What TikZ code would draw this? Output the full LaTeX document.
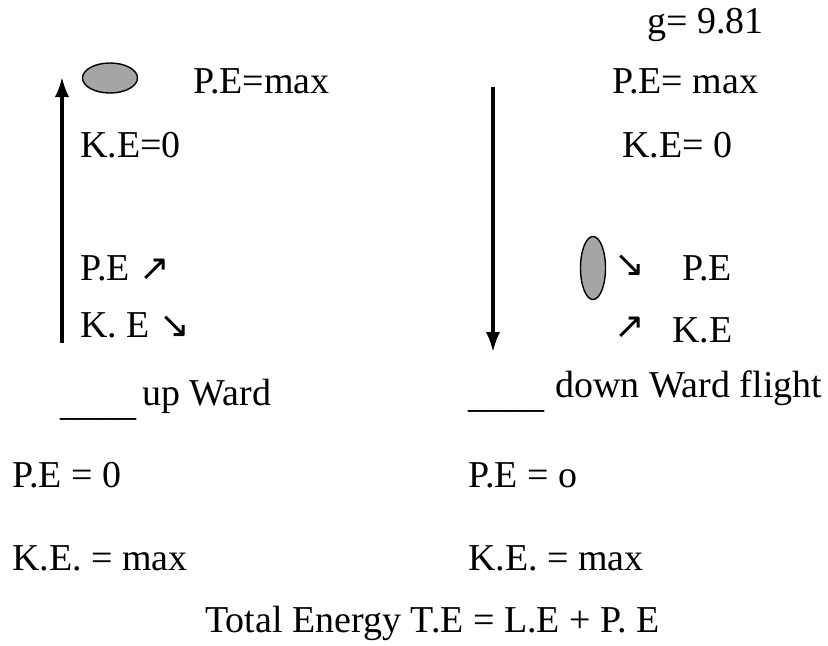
\documentclass[tikz,border=0pt]{standalone}
\usepackage{fontspec}
\setmainfont{Liberation Serif}
\newfontfamily\arrowfont{DejaVu Sans}
\usetikzlibrary{arrows.meta,shapes.geometric}
\definecolor{ballgray}{RGB}{165,165,168}
\newcommand{\sarr}[1]{{\arrowfont\fontsize{26}{28}\selectfont #1}}
\tikzset{
  lbl/.style={anchor=base west, inner sep=0pt, font=\fontsize{27}{30}\selectfont},
  ball/.style={ellipse, draw, line width=1pt, fill=ballgray, inner sep=0pt},
  flight/.style={-{Latex[length=0.5cm,width=0.36cm]}, line width=2.3pt}
}

\begin{document}
\begin{tikzpicture}[x=0.025cm, y=-0.025cm]
  \useasboundingbox (0,0) rectangle (828,645);

  % Upward flight (left)
  \coordinate (upbot) at (62,343);
  \coordinate (uptop) at (62,77);
  \draw[flight] (upbot) -- (uptop);
  \node[ball, minimum width=1.375cm, minimum height=0.75cm] (upball) at (110,78) {};
  \node[lbl] (uppemax) at (193,93) {P.E=max};
  \node[lbl] (upkezero) at (80,157) {K.E=0};
  \node[lbl] (uppe) at (80,280) {P.E \sarr{↗}};
  \node[lbl] (upke) at (80,337) {K. E \sarr{↘}};
  \node[lbl] (upline) at (60,415) {\_\_\_\_};
  \node[lbl] (uptitle) at (142,405) {up Ward};
  \node[lbl] (uppezero) at (12,487) {P.E = 0};
  \node[lbl] (upkemax) at (12,570) {K.E. = max};

  % Downward flight (right)
  \node[lbl] (gval) at (647,33) {g= 9.81};
  \node[lbl] (dnpemax) at (612,93) {P.E= max};
  \node[lbl] (dnkezero) at (622,157) {K.E= 0};
  \coordinate (dntop) at (493,87);
  \coordinate (dnbot) at (493,352);
  \draw[flight] (dntop) -- (dnbot);
  \node[ball, minimum width=0.625cm, minimum height=1.575cm] (dnball) at (593,268) {};
  \node[lbl] (dnpearr) at (614,276) {\sarr{↘}};
  \node[lbl] (dnpe) at (682,280) {P.E};
  \node[lbl] (dnkearr) at (614,338) {\sarr{↗}};
  \node[lbl] (dnke) at (672,342) {K.E};
  \node[lbl] (dnline) at (468,407) {\_\_\_\_};
  \node[lbl] (dntitle) at (555,397) {down Ward flight};
  \node[lbl] (dnpezero) at (468,487) {P.E = o};
  \node[lbl] (dnkemax) at (468,570) {K.E. = max};

  % Total energy
  \node[lbl] (total) at (205,632) {Total Energy T.E = L.E + P. E};
\end{tikzpicture}
\end{document}
